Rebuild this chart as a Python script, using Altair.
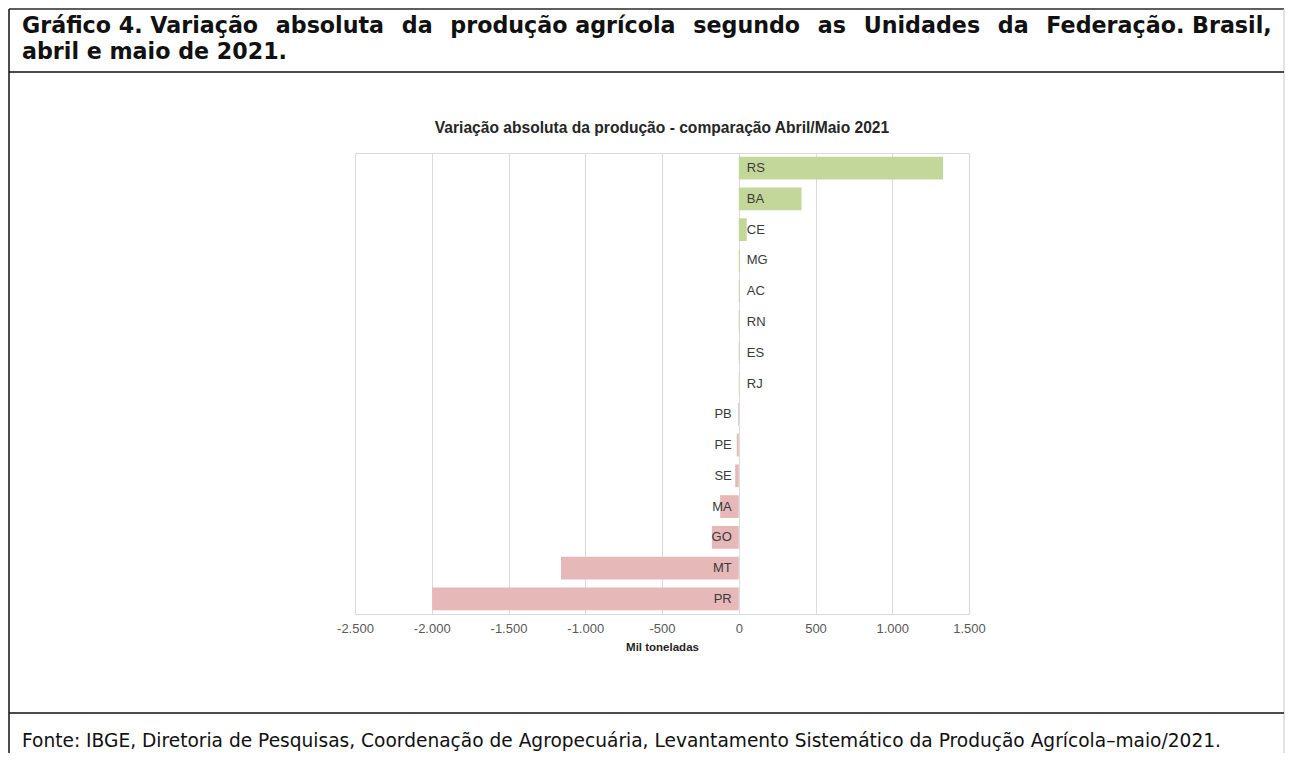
import altair as alt
import pandas as pd

# ---- data ----
states = ["RS", "BA", "CE", "MG", "AC", "RN", "ES", "RJ",
          "PB", "PE", "SE", "MA", "GO", "MT", "PR"]
values = [1331, 409, 52, 7, 5, 4, 4, 3,
          -5, -13, -23, -121, -175, -1158, -1997]
x_ticks = [-2500, -2000, -1500, -1000, -500, 0, 500, 1000, 1500]

heading_words = ["Gráfico", "4.", "Variação", "absoluta", "da", "produção",
                 "agrícola", "segundo", "as", "Unidades", "da", "Federação.", "Brasil,"]
NARROW = "\u00a0"
WIDE = "\u00a0\u2005\u2009"
heading_gaps = [NARROW, NARROW, WIDE, WIDE, WIDE, NARROW, WIDE, WIDE, WIDE, WIDE, WIDE, NARROW]
heading_line2 = "abril e maio de 2021."
chart_title = "Variação absoluta da produção - comparação Abril/Maio 2021"
axis_title = "Mil toneladas"
source_note = ("Fonte: IBGE, Diretoria de Pesquisas, Coordenação de Agropecuária, "
               "Levantamento Sistemático da Produção Agrícola\u2013maio/2021.")

heading_line1 = heading_words[0]
for g, w in zip(heading_gaps, heading_words[1:]):
    heading_line1 += g + w

df = pd.DataFrame({"uf": states, "valor": values})
one = pd.DataFrame({"k": [0]})

W, H = 614, 461
PAD = {"left": 347, "top": 145, "right": 316, "bottom": 139}
LEFT_EDGE = -PAD["left"] + 1
RIGHT_EDGE = W + PAD["right"] - 1

GREEN = "#c4d79b"
PINK = "#e6b8b7"
GRID = "#dadae4"
FONT = "Liberation Sans"

x_enc = alt.X(
    "valor:Q",
    scale=alt.Scale(domain=[-2500, 1500], nice=False, zero=True),
    axis=alt.Axis(
        values=x_ticks,
        labelExpr="(datum.value < 0 ? '-' : '') + replace(format(abs(datum.value), ',.0f'), ',', '.')",
        title=axis_title,
        grid=True, gridColor=GRID, gridWidth=1,
        domainColor="#d9d9d9", ticks=False,
        labelFlush=False,
        labelFont=FONT, labelFontSize=13, labelColor="#595959", labelPadding=8,
        titleFont=FONT, titleFontSize=11.5, titleFontWeight="bold",
        titleColor="#262626", titlePadding=6,
    ),
)
y_enc = alt.Y("uf:N", sort=None, axis=None,
              scale=alt.Scale(paddingInner=0.26, paddingOuter=0.12))

base = alt.Chart(df)

bars = base.mark_bar().encode(
    x=x_enc, y=y_enc,
    color=alt.condition("datum.valor >= 0", alt.value(GREEN), alt.value(PINK)),
)

lab_pos = base.transform_filter("datum.valor >= 0").mark_text(
    align="left", baseline="middle", dx=8, font=FONT, fontSize=13, color="#3a3a3a"
).encode(x=alt.datum(0), y=y_enc, text="uf:N")

lab_neg = base.transform_filter("datum.valor < 0").mark_text(
    align="right", baseline="middle", dx=-7, font=FONT, fontSize=13, color="#3a3a3a"
).encode(x=alt.datum(0), y=y_enc, text="uf:N")

deco = alt.Chart(one)

title_txt = deco.mark_text(
    align="center", baseline="middle", font=FONT, fontSize=15.6, fontWeight="bold", color="#262626"
).encode(x=alt.value(W / 2), y=alt.value(-25), text=alt.value(chart_title))

head1 = deco.mark_text(
    align="left", baseline="alphabetic", font="DejaVu Sans", fontSize=22.2, fontWeight="bold", color="#111111"
).encode(x=alt.value(-333), y=alt.value(-120), text=alt.value(heading_line1))

head2 = deco.mark_text(
    align="left", baseline="alphabetic", font="DejaVu Sans", fontSize=22.2, fontWeight="bold", color="#111111"
).encode(x=alt.value(-333), y=alt.value(-94), text=alt.value(heading_line2))

foot = deco.mark_text(
    align="left", baseline="alphabetic", font="DejaVu Sans", fontSize=18.6, color="#111111"
).encode(x=alt.value(-333), y=alt.value(594), text=alt.value(source_note))

top_border = deco.mark_rule(color="#5e5e5e", strokeWidth=2).encode(
    x=alt.value(LEFT_EDGE), x2=alt.value(RIGHT_EDGE), y=alt.value(-144))
left_border = deco.mark_rule(color="#111111", strokeWidth=1.5).encode(
    x=alt.value(LEFT_EDGE), y=alt.value(-144), y2=alt.value(H + PAD["bottom"]))
right_border = deco.mark_rule(color="#c8c8c8", strokeWidth=1).encode(
    x=alt.value(RIGHT_EDGE), y=alt.value(-144), y2=alt.value(H + PAD["bottom"]))
div1 = deco.mark_rule(color="#111111", strokeWidth=1.5).encode(
    x=alt.value(LEFT_EDGE), x2=alt.value(RIGHT_EDGE), y=alt.value(-81))
div2 = deco.mark_rule(color="#111111", strokeWidth=1.5).encode(
    x=alt.value(LEFT_EDGE), x2=alt.value(RIGHT_EDGE), y=alt.value(560))

chart = alt.layer(
    bars, lab_pos, lab_neg, title_txt, head1, head2, foot,
    top_border, left_border, right_border, div1, div2,
).properties(
    width=W, height=H,
    autosize=alt.AutoSizeParams(type="none"),
    padding=PAD,
    background="white",
).configure_view(
    stroke=GRID, strokeWidth=1,
)

chart.save("out.html", embed_options={"renderer": "svg", "actions": False})
